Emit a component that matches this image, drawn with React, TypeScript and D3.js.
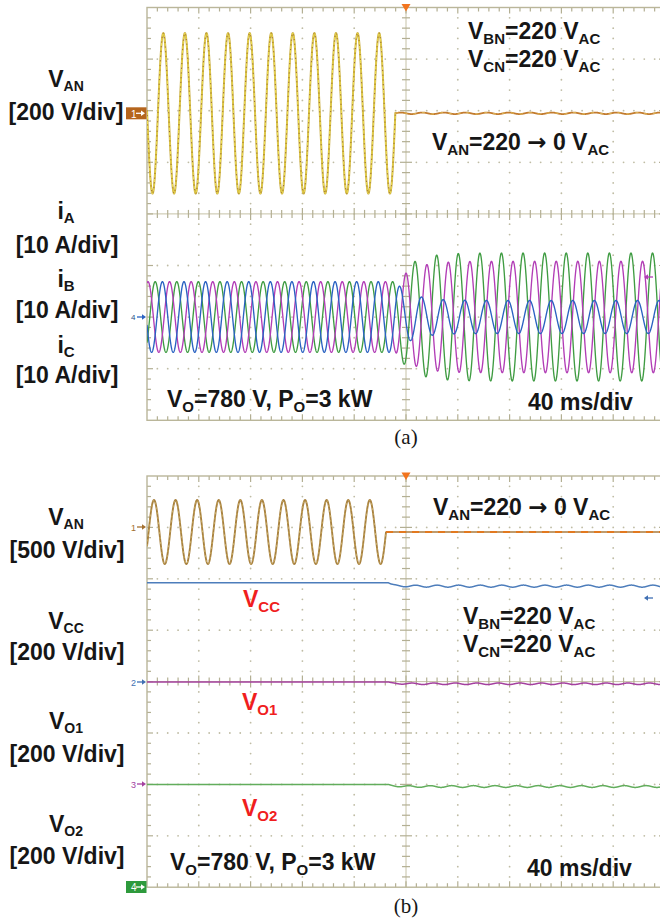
import React from "react";
import * as d3 from "d3";

const WIDTH = 660;
const HEIGHT = 922;

// Time base shared by both captures
const TIME_PER_DIV_MS = 40;
const DIVS_X = 10;
const DIVS_Y = 8;
const LINE_HZ = 60;
const SAMPLE_MS = 0.1;

// Phase-A source voltage, panels (a) and (b)
const vanVoltsPerDiv = [200, 500];
const vanPeakV = [311, 311];
const vanFirstPeakMs = [12.6, 5.4];
const vanCutMs = [191.8, 184.6];
const vanResidualV = [3, 0];

// Line currents in panel (a), 10 A/div, drawn magenta, green, blue
const currentAmpsPerDiv = 10;
const currentColors = ["#b23db6", "#3f9c42", "#2a62c2"];
const currentBeforeA = [6.85, 6.85, 6.85];
const currentAfterA = [10.8, 12.4, 3.2];
const currentPeakBeforeMs = [0.77, 6.33, 11.9];
const currentPeakAfterMs = [-0.67, 7.05, 12.1];
const currentSettleMs = 12;

// DC-link voltages in panel (b), 200 V/div
const dcVoltsPerDiv = 200;
const dcColors = ["#4d7dbb", "#a4409f", "#62ad5c"];
const dcBeforeV = [386, 397, 399];
const dcAfterV = [373, 390, 391];
const dcRippleV = [4, 3, 3.5];
const dcStepMs = 186.5;

// Annotation text: [text, style] where style 1 = subscript, 2 = arrow glyph
type Part = [string, number?];
const txtVAN: Part[] = [["V"], ["AN", 1]];
const txtVCC: Part[] = [["V"], ["CC", 1]];
const txtVO1: Part[] = [["V"], ["O1", 1]];
const txtVO2: Part[] = [["V"], ["O2", 1]];
const txtIA: Part[] = [["i"], ["A", 1]];
const txtIB: Part[] = [["i"], ["B", 1]];
const txtIC: Part[] = [["i"], ["C", 1]];
const txtVBN: Part[] = [["V"], ["BN", 1], ["=220 V"], ["AC", 1]];
const txtVCN: Part[] = [["V"], ["CN", 1], ["=220 V"], ["AC", 1]];
const txtStep: Part[] = [["V"], ["AN", 1], ["=220 "], ["\u2192", 2], [" 0 V"], ["AC", 1]];
const txtOperating: Part[] = [["V"], ["O", 1], ["=780 V, P"], ["O", 1], ["=3 kW"]];
const txtTimeBase = "40 ms/div";
const scaleTexts = ["[200 V/div]", "[10 A/div]", "[500 V/div]"];
const captions = ["(a)", "(b)"];

const FONT = "'Liberation Sans', Arial, Helvetica, sans-serif";
const INK = "#161616";

function RichText({ x, y, parts, anchor = "start", fill = INK, size = 23, subSize = 15, shift = 5 }: any) {
  let prevSub = false;
  const spans = parts.map(([s, kind]: Part, i: number) => {
    const sub = kind === 1;
    let dy = 0;
    if (sub && !prevSub) dy = shift;
    if (!sub && prevSub) dy = -shift;
    prevSub = sub;
    if (kind === 2) {
      return (
        <tspan key={i} dy={dy || undefined} fontSize={size} fontFamily="'DejaVu Sans', sans-serif">
          {s}
        </tspan>
      );
    }
    return (
      <tspan key={i} dy={dy || undefined} fontSize={sub ? subSize : size}>
        {s}
      </tspan>
    );
  });
  return (
    <text x={x} y={y} textAnchor={anchor} fill={fill} fontSize={size} fontWeight="bold" fontFamily={FONT}>
      {spans}
    </text>
  );
}

type Screen = { x0: number; y0: number; dw: number; dh: number; id: string };

const screenA: Screen = { x0: 147, y0: 7.5, dw: 51.8, dh: 51.6, id: "a" };
const screenB: Screen = { x0: 147, y0: 476, dw: 51.8, dh: 51.4, id: "b" };

const times = d3.range(0, DIVS_X * TIME_PER_DIV_MS + SAMPLE_MS / 2, SAMPLE_MS);
const omega = (2 * Math.PI * LINE_HZ) / 1000;

function timeScale(s: Screen) {
  return d3.scaleLinear().domain([0, DIVS_X * TIME_PER_DIV_MS]).range([s.x0, s.x0 + DIVS_X * s.dw]);
}
function channelScale(s: Screen, ground: number, perDiv: number) {
  return d3
    .scaleLinear()
    .domain([-(DIVS_Y / 2) * perDiv, (DIVS_Y / 2) * perDiv])
    .range([ground + (DIVS_Y / 2) * s.dh, ground - (DIVS_Y / 2) * s.dh]);
}

function Graticule({ s }: { s: Screen }) {
  const w = DIVS_X * s.dw;
  const h = DIVS_Y * s.dh;
  const cx = s.x0 + (DIVS_X / 2) * s.dw;
  const cy = s.y0 + (DIVS_Y / 2) * s.dh;
  const dots: JSX.Element[] = [];
  for (let i = 1; i < DIVS_X; i++) {
    if (i === DIVS_X / 2) continue;
    const x = s.x0 + i * s.dw;
    for (let k = 1; k < DIVS_Y * 5; k++) {
      dots.push(<circle key={`v${i}-${k}`} cx={x} cy={s.y0 + (k * s.dh) / 5} r={0.9} fill="#bfbca4" />);
    }
  }
  for (let j = 1; j < DIVS_Y; j++) {
    if (j === DIVS_Y / 2) continue;
    const y = s.y0 + j * s.dh;
    for (let k = 1; k < DIVS_X * 5; k++) {
      if (k % 5 === 0) continue;
      dots.push(<circle key={`h${j}-${k}`} cx={s.x0 + (k * s.dw) / 5} cy={y} r={0.9} fill="#bfbca4" />);
    }
  }
  const ticks: JSX.Element[] = [];
  const tc = "#b3af93";
  for (let k = 1; k < DIVS_X * 5; k++) {
    const x = s.x0 + (k * s.dw) / 5;
    const major = k % 5 === 0;
    const L = major ? 6 : 4;
    ticks.push(<line key={`tt${k}`} x1={x} x2={x} y1={s.y0} y2={s.y0 + L} stroke={tc} strokeWidth={1.2} />);
    ticks.push(<line key={`tb${k}`} x1={x} x2={x} y1={s.y0 + h} y2={s.y0 + h - L} stroke={tc} strokeWidth={1.2} />);
    ticks.push(<line key={`tc${k}`} x1={x} x2={x} y1={cy - L} y2={cy + L} stroke={tc} strokeWidth={1.2} />);
  }
  for (let k = 1; k < DIVS_Y * 5; k++) {
    const y = s.y0 + (k * s.dh) / 5;
    const major = k % 5 === 0;
    const L = major ? 6 : 4;
    ticks.push(<line key={`tl${k}`} x1={s.x0} x2={s.x0 + L} y1={y} y2={y} stroke={tc} strokeWidth={1.2} />);
    ticks.push(<line key={`tr${k}`} x1={s.x0 + w} x2={s.x0 + w - L} y1={y} y2={y} stroke={tc} strokeWidth={1.2} />);
    ticks.push(<line key={`tm${k}`} x1={cx - L} x2={cx + L} y1={y} y2={y} stroke={tc} strokeWidth={1.2} />);
  }
  return (
    <g>
      {dots}
      <line x1={cx} x2={cx} y1={s.y0} y2={s.y0 + h} stroke="#c6c2a7" strokeWidth={1} />
      <line x1={s.x0} x2={s.x0 + w} y1={cy} y2={cy} stroke="#c6c2a7" strokeWidth={1} />
      {ticks}
      <rect x={s.x0} y={s.y0} width={w} height={h} fill="none" stroke="#bab69a" strokeWidth={1.4} />
      <path d={`M${cx - 4.5},${s.y0 - 3.5} L${cx + 4.5},${s.y0 - 3.5} L${cx},${s.y0 + 4} Z`} fill="#f2741e" />
    </g>
  );
}

function ClipDef({ s }: { s: Screen }) {
  return (
    <clipPath id={`clip-${s.id}`}>
      <rect x={s.x0} y={s.y0} width={DIVS_X * s.dw} height={DIVS_Y * s.dh} />
    </clipPath>
  );
}

const line = d3.line<[number, number]>().curve(d3.curveLinear);

function vanPaths(p: number, s: Screen, ground: number) {
  const xs = timeScale(s);
  const ys = channelScale(s, ground, vanVoltsPerDiv[p]);
  const cut = vanCutMs[p];
  const on = times.filter((t) => t <= cut).concat([cut]);
  const off = [cut].concat(times.filter((t) => t > cut));
  const live = on.map((t) => [xs(t), ys(vanPeakV[p] * Math.cos(omega * (t - vanFirstPeakMs[p])))] as [number, number]);
  const dead = off.map((t) => [xs(t), ys(vanResidualV[p] * Math.sin(omega * (t - cut)))] as [number, number]);
  return { live: line(live) || "", dead: line(dead) || "" };
}

function currentPath(k: number, s: Screen, ground: number) {
  const xs = timeScale(s);
  const ys = channelScale(s, ground, currentAmpsPerDiv);
  const start = vanCutMs[0];
  const pts = times.map((t) => {
    const wgt = t < start ? 0 : 1 - Math.exp(-(t - start) / currentSettleMs);
    const before = currentBeforeA[k] * Math.cos(omega * (t - currentPeakBeforeMs[k]));
    const after = currentAfterA[k] * Math.cos(omega * (t - currentPeakAfterMs[k]));
    return [xs(t), ys((1 - wgt) * before + wgt * after)] as [number, number];
  });
  return line(pts) || "";
}

function dcPath(k: number, s: Screen, ground: number) {
  const xs = timeScale(s);
  const ys = channelScale(s, ground, dcVoltsPerDiv);
  const pts = times.map((t) => {
    if (t < dcStepMs) return [xs(t), ys(dcBeforeV[k])] as [number, number];
    const dt = t - dcStepMs;
    const level = dcAfterV[k] + (dcBeforeV[k] - dcAfterV[k]) * Math.exp(-dt / 4);
    const ripple = dcRippleV[k] * (1 - Math.exp(-dt / 8)) * Math.sin(omega * dt + k);
    return [xs(t), ys(level + ripple)] as [number, number];
  });
  return line(pts) || "";
}

function ArrowMark({ x, y, color, dir = 1 }: any) {
  // small channel-reference arrow; dir=1 points right, -1 points left
  const tip = x;
  const tail = x - dir * 9;
  return (
    <g>
      <line x1={tail} x2={tip - dir * 2} y1={y} y2={y} stroke={color} strokeWidth={1.3} />
      <path d={`M${tip},${y} L${tip - dir * 4},${y - 2.8} L${tip - dir * 4},${y + 2.8} Z`} fill={color} />
    </g>
  );
}

export default function App() {
  // ground references (pixel rows) of each channel
  const gA_van = 113.3;
  const gA_cur = 317;
  const gB_van = 532;
  const gB_dc = [682, 784, 887];

  const vanA = vanPaths(0, screenA, gA_van);
  const vanB = vanPaths(1, screenB, gB_van);
  const curOrder = [1, 0, 2];

  return (
    <svg
      width={WIDTH}
      height={HEIGHT}
      viewBox={`0 0 ${WIDTH} ${HEIGHT}`}
      style={{ position: "absolute", left: 0, top: 0, background: "#fff" }}
    >
      <defs>
        <ClipDef s={screenA} />
        <ClipDef s={screenB} />
      </defs>
      <rect width={WIDTH} height={HEIGHT} fill="#fff" />

      {/* ---------- panel (a) ---------- */}
      <Graticule s={screenA} />
      <g clipPath="url(#clip-a)" fill="none" strokeLinejoin="round">
        <path d={vanA.live} stroke="#c9ad45" strokeWidth={2} />
        <path d={vanA.live} stroke="#f1e24f" strokeWidth={1} />
        <path d={vanA.live} stroke="#9a6a2c" strokeWidth={1} strokeDasharray="1.2 3.5" />
        <path d={vanA.dead} stroke="#c27b2e" strokeWidth={1.8} />
        <path d={vanA.dead} stroke="#e9cf6a" strokeWidth={1} strokeDasharray="3 6" />
        {curOrder.map((k) => (
          <path key={k} d={currentPath(k, screenA, gA_cur)} stroke={currentColors[k]} strokeWidth={1.35} />
        ))}
      </g>
      {/* channel markers */}
      <rect x={126} y={107.3} width={20.5} height={12} fill="#b5651d" />
      <text x={131} y={117.5} fontSize={10} fill="#fff" fontFamily={FONT}>1</text>
      <ArrowMark x={145} y={113.3} color="#fff" />
      <text x={131} y={320} fontSize={8} fill="#2a4f8a" fontFamily={FONT}>4</text>
      <ArrowMark x={146} y={317} color="#2a62c2" />
      <ArrowMark x={644} y={277} color="#b23db6" dir={-1} />

      <RichText x={66} y={87} parts={txtVAN} anchor="middle" subSize={14} shift={4} />
      <text x={66} y={120} textAnchor="middle" fontSize={23} fontWeight="bold" fontFamily={FONT} fill={INK}>{scaleTexts[0]}</text>
      <RichText x={66} y={219} parts={txtIA} anchor="middle" subSize={15} shift={4} />
      <text x={67} y={253} textAnchor="middle" fontSize={23} fontWeight="bold" fontFamily={FONT} fill={INK}>{scaleTexts[1]}</text>
      <RichText x={66} y={287} parts={txtIB} anchor="middle" subSize={15} shift={4} />
      <text x={67} y={318} textAnchor="middle" fontSize={23} fontWeight="bold" fontFamily={FONT} fill={INK}>{scaleTexts[1]}</text>
      <RichText x={66} y={353} parts={txtIC} anchor="middle" subSize={15} shift={4} />
      <text x={67} y={383} textAnchor="middle" fontSize={23} fontWeight="bold" fontFamily={FONT} fill={INK}>{scaleTexts[1]}</text>

      <RichText x={468} y={38.5} parts={txtVBN} />
      <RichText x={468} y={66.5} parts={txtVCN} />
      <RichText x={432} y={150} parts={txtStep} />
      <RichText x={167} y={407} parts={txtOperating} />
      <text x={528} y={410} fontSize={23} fontWeight="bold" fontFamily={FONT} fill={INK}>{txtTimeBase}</text>

      <text x={406} y={444} textAnchor="middle" fontSize={21} fontFamily="'Liberation Serif', 'Times New Roman', serif" fill={INK}>{captions[0]}</text>

      {/* ---------- panel (b) ---------- */}
      <Graticule s={screenB} />
      <g clipPath="url(#clip-b)" fill="none" strokeLinejoin="round">
        <path d={vanB.live} stroke="#a8813f" strokeWidth={1.9} />
        <path d={vanB.live} stroke="#d7bf74" strokeWidth={0.8} strokeDasharray="2 3" />
        <path d={vanB.dead} stroke="#a97a3c" strokeWidth={1.4} />
        <path d={vanB.dead} stroke="#e2791f" strokeWidth={2} strokeDasharray="7 6" />
        {[0, 1, 2].map((k) => (
          <path key={k} d={dcPath(k, screenB, gB_dc[k])} stroke={dcColors[k]} strokeWidth={1.5} />
        ))}
      </g>
      <text x={131} y={530.5} fontSize={9} fill="#a4702f" fontFamily={FONT}>1</text>
      <ArrowMark x={146} y={527} color="#a4702f" />
      <text x={131} y={685.5} fontSize={9} fill="#3f6fb3" fontFamily={FONT}>2</text>
      <ArrowMark x={146} y={682} color="#3f6fb3" />
      <text x={131} y={787.5} fontSize={9} fill="#a4409f" fontFamily={FONT}>3</text>
      <ArrowMark x={146} y={784} color="#a4409f" />
      <rect x={126} y={881} width={20.5} height={12} fill="#2e9a3c" />
      <text x={131} y={891} fontSize={10} fill="#fff" fontFamily={FONT}>4</text>
      <ArrowMark x={145} y={887} color="#fff" />
      <ArrowMark x={644} y={598} color="#3f6fb3" dir={-1} />

      <RichText x={66} y={525} parts={txtVAN} anchor="middle" subSize={14} shift={4} />
      <text x={67} y={558} textAnchor="middle" fontSize={23} fontWeight="bold" fontFamily={FONT} fill={INK}>{scaleTexts[2]}</text>
      <RichText x={66} y={629} parts={txtVCC} anchor="middle" subSize={14} shift={4} />
      <text x={67} y={660} textAnchor="middle" fontSize={23} fontWeight="bold" fontFamily={FONT} fill={INK}>{scaleTexts[0]}</text>
      <RichText x={66} y={729} parts={txtVO1} anchor="middle" subSize={14} shift={4} />
      <text x={67} y={762} textAnchor="middle" fontSize={23} fontWeight="bold" fontFamily={FONT} fill={INK}>{scaleTexts[0]}</text>
      <RichText x={66} y={832} parts={txtVO2} anchor="middle" subSize={14} shift={4} />
      <text x={67} y={864} textAnchor="middle" fontSize={23} fontWeight="bold" fontFamily={FONT} fill={INK}>{scaleTexts[0]}</text>

      <RichText x={243} y={607} parts={txtVCC} fill="#f01e1e" />
      <RichText x={242} y={710} parts={txtVO1} fill="#f01e1e" />
      <RichText x={242} y={816} parts={txtVO2} fill="#f01e1e" />

      <RichText x={433} y={515} parts={txtStep} />
      <RichText x={463} y={624} parts={txtVBN} />
      <RichText x={463} y={652} parts={txtVCN} />
      <RichText x={170} y={870} parts={txtOperating} />
      <text x={527} y={876} fontSize={23} fontWeight="bold" fontFamily={FONT} fill={INK}>{txtTimeBase}</text>

      <text x={406} y={913} textAnchor="middle" fontSize={21} fontFamily="'Liberation Serif', 'Times New Roman', serif" fill={INK}>{captions[1]}</text>
    </svg>
  );
}
